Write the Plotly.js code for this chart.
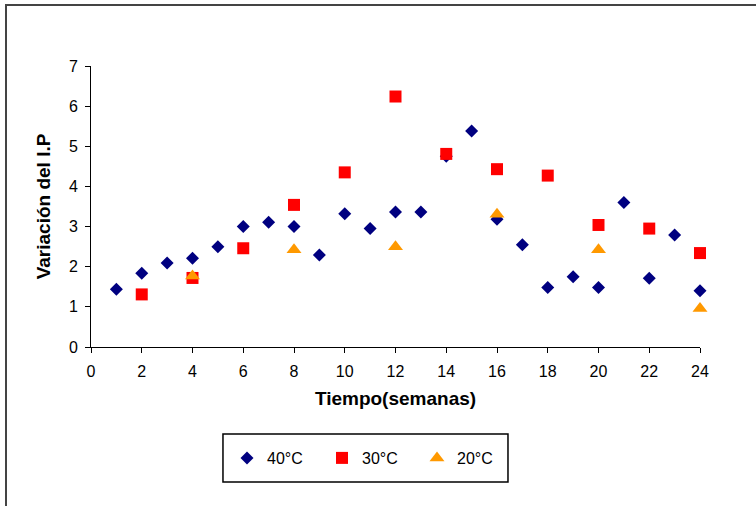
<!DOCTYPE html>
<html>
<head>
<meta charset="utf-8">
<script src="https://cdn.plot.ly/plotly-3.0.1.min.js"></script>
<style>
html,body{margin:0;padding:0;background:#fff;}
#chart{width:756px;height:506px;}
#frame{position:absolute;left:5px;top:4px;width:760px;height:520px;border-top:2px solid #444;border-left:2px solid #444;pointer-events:none;}
</style>
</head>
<body>
<div id="chart"></div>
<div id="frame"></div>
<script>
// Data
const weeks40 = [1,2,3,4,5,6,7,8,9,10,11,12,13,14,15,16,17,18,19,20,21,22,23,24];
const ip40 = [1.44,1.84,2.09,2.21,2.50,3.00,3.11,3.00,2.29,3.32,2.95,3.36,3.36,4.75,5.38,3.18,2.55,1.48,1.75,1.48,3.60,1.71,2.79,1.40];
const weeks30 = [2,4,6,8,10,12,14,16,18,20,22,24];
const ip30 = [1.31,1.72,2.46,3.54,4.35,6.24,4.81,4.43,4.27,3.04,2.95,2.34];
const weeks20 = [4,8,12,16,20,24];
const ip20 = [1.77,2.42,2.50,3.31,2.42,0.96];
const seriesNames = ['40°C','30°C','20°C'];
const xTicks = [0,2,4,6,8,10,12,14,16,18,20,22,24];
const yTicks = [0,1,2,3,4,5,6,7];

const fam = 'Liberation Sans, Arial, sans-serif';
const tickFont = {family:fam, color:'#000', size:16};
const titleFont = {family:fam, color:'#000', size:19};
const legendFont = {family:fam, color:'#000', size:16};

const traces = [
  {x:weeks40, y:ip40, name:seriesNames[0], type:'scatter', mode:'markers', cliponaxis:false,
   marker:{symbol:'diamond', size:10, color:'#000080'}},
  {x:weeks30, y:ip30, name:seriesNames[1], type:'scatter', mode:'markers', cliponaxis:false,
   marker:{symbol:'square', size:12, color:'#FF0000'}},
  {x:weeks20, y:ip20, name:seriesNames[2], type:'scatter', mode:'markers', cliponaxis:false,
   marker:{symbol:'triangle-up', size:13, color:'#FF9900'}}
];

const layout = {
  width:756, height:506,
  margin:{l:91, r:56, t:66, b:159},
  paper_bgcolor:'#fff', plot_bgcolor:'#fff',
  font:tickFont,
  showlegend:true,
  xaxis:{range:[0,24], tickvals:xTicks, ticktext:xTicks.map(String),
    showgrid:false, zeroline:false, showline:true, linecolor:'#000', linewidth:1,
    ticks:'outside', ticklen:5, tickcolor:'#000', tickfont:tickFont, ticklabelstandoff:5,
    title:{text:'<b>Tiempo(semanas)</b>', font:titleFont, standoff:12}},
  yaxis:{range:[0,7], tickvals:yTicks, ticktext:yTicks.map(String),
    showgrid:false, zeroline:false, showline:true, linecolor:'#000', linewidth:1,
    ticks:'outside', ticklen:5, tickcolor:'#000', tickfont:tickFont, ticklabelstandoff:4,
    title:{text:'<b>Variación del I.P</b>', font:titleFont, standoff:13}},
  legend:{orientation:'h', x:0.2233, xanchor:'left', y:-0.395, yanchor:'middle',
    borderwidth:0, bgcolor:'rgba(0,0,0,0)', font:legendFont,
    entrywidth:50, itemwidth:30},
  shapes:[{type:'rect', xref:'paper', yref:'paper', x0:0.2167, x1:0.6847, y0:-0.4804, y1:-0.3096,
    line:{color:'#000', width:1.5}, fillcolor:'rgba(0,0,0,0)', layer:'below'}]
};

Plotly.newPlot('chart', traces, layout, {displayModeBar:false, staticPlot:true});
</script>
</body>
</html>
